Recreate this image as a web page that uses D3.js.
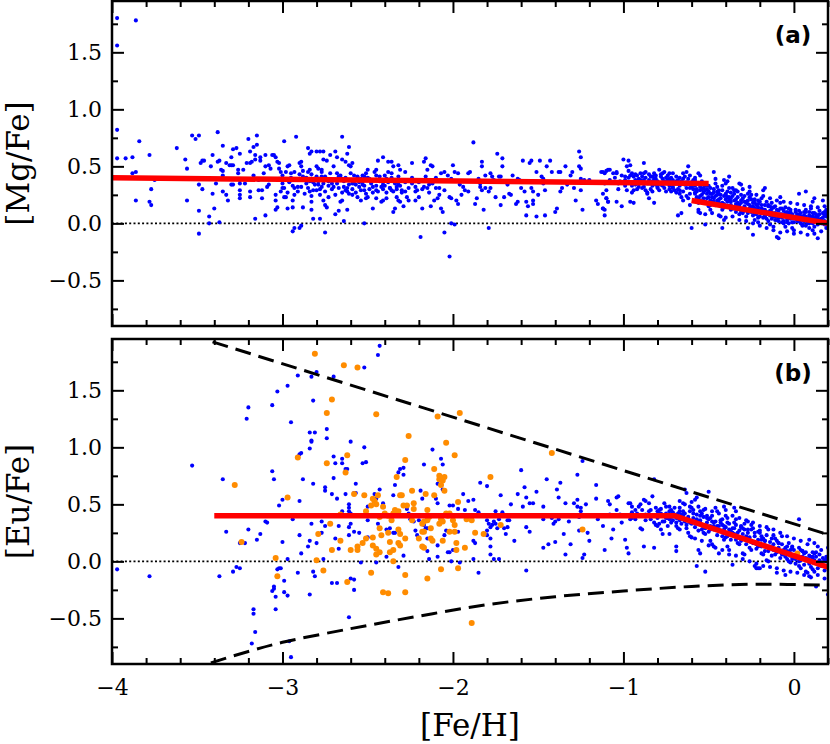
<!DOCTYPE html>
<html>
<head>
<meta charset="utf-8">
<script src="https://cdn.jsdelivr.net/npm/d3@7"></script>
<style>
  body { margin: 0; background: #fff; }
  svg { display: block; }
  .tick text { font-family: "DejaVu Serif", serif; font-size: 22px; fill: #000; }
  .tick line { stroke: #000; stroke-width: 2; }
  .axis-title { font-family: "DejaVu Serif", serif; font-size: 31px; fill: #000; }
  .panel-tag { font-family: "DejaVu Sans", sans-serif; font-size: 23px; font-weight: bold; fill: #000; }
</style>
</head>
<body>
<svg id="chart" width="830" height="744"></svg>
<script>
// ---- panel (a): [Mg/Fe] vs [Fe/H] ----
const mgFeMetalPoor = [
  [-3.97,1.80],[-3.97,1.56],[-3.86,1.78],[-3.97,0.82],[-3.97,0.57],[-3.92,0.57],[-3.88,0.58],[-3.84,0.72],[-3.88,0.44],[-3.86,0.45],
  [-3.86,0.20],[-3.78,0.60],[-3.77,0.30],[-3.78,0.19],[-3.77,0.16],[-3.75,0.38],[-3.62,0.66],[-3.57,0.56],[-3.56,0.48],[-3.56,0.20],
  [-3.53,0.77],[-3.51,0.74],[-3.49,0.77],[-3.49,0.34],[-3.49,0.11],[-3.48,0.53],[-3.47,0.55],[-3.46,0.55],[-3.47,0.30],[-3.49,-0.09],
  [-3.43,0.06],[-3.43,0.00],[-3.41,0.60],[-3.42,0.50],[-3.41,0.26],[-3.40,0.13],[-3.39,0.35],[-3.38,0.80],[-3.38,0.54],[-3.37,0.55],
  [-3.37,0.01],[-3.36,0.47],[-3.35,0.46],[-3.35,0.42],[-3.35,0.68],[-3.35,0.28],[-3.33,0.53],[-3.33,0.25],[-3.32,0.20],[-3.31,0.51],
  [-3.30,0.58],[-3.29,0.65],[-3.27,0.66],[-3.30,0.51],[-3.29,0.51],[-3.30,0.34],[-3.29,0.34],[-3.26,0.47],[-3.26,0.44],[-3.25,0.38],
  [-3.25,0.35],[-3.25,0.29],[-3.25,0.25],[-3.25,0.22],[-3.25,0.61],[-3.23,0.47],[-3.22,0.35],[-3.21,0.53],[-3.19,0.53],[-3.18,0.54],
  [-3.20,0.74],[-3.19,0.63],[-3.19,0.28],[-3.19,0.23],[-3.17,0.67],[-3.15,0.69],[-3.15,0.77],[-3.17,0.42],[-3.16,0.60],[-3.16,0.56],
  [-3.16,0.04],[-3.14,0.38],[-3.14,0.29],[-3.12,0.29],[-3.13,0.58],[-3.13,0.55],[-3.12,0.22],[-3.11,0.44],[-3.10,0.50],[-3.10,0.60],
  [-3.10,0.07],[-3.09,0.32],[-3.08,0.34],[-3.08,0.51],[-3.07,0.48],[-3.06,0.60],[-3.05,0.60],[-3.04,0.58],[-3.04,0.20],[-3.04,0.25],
  [-3.04,0.12],[-3.03,0.14],[-3.03,0.54],[-3.02,0.53],[-3.02,0.48],[-3.01,0.45],[-3.02,0.39],[-3.00,0.38],[-2.98,0.38],[-3.01,0.28],
  [-2.99,0.23],[-2.98,0.23],[-3.00,0.35],[-3.00,0.31],[-2.99,0.72],[-2.97,0.50],[-2.96,0.51],[-2.97,0.13],[-2.94,0.14],[-2.95,0.44],
  [-2.93,0.45],[-2.94,0.20],[-2.93,0.25],[-2.93,0.31],[-2.91,0.32],[-2.92,0.76],[-2.94,-0.07],[-2.93,-0.04],[-2.90,-0.04],[-2.89,-0.02],
  [-2.90,0.53],[-2.89,0.50],[-2.89,0.54],[-2.88,0.41],[-2.87,0.38],[-2.86,0.35],[-2.88,0.14],[-2.85,0.66],[-2.84,0.61],[-2.83,0.63],
  [-2.85,0.45],[-2.84,0.47],[-2.84,0.28],[-2.83,0.24],[-2.83,0.19],[-2.83,0.12],[-2.83,0.39],[-2.82,0.36],[-2.81,0.39],[-2.82,0.04],
  [-2.80,0.63],[-2.78,0.63],[-2.76,0.63],[-2.80,0.50],[-2.79,0.48],[-2.77,0.47],[-2.80,0.29],[-2.78,0.25],[-2.76,0.20],[-2.79,0.34],
  [-2.77,0.32],[-2.78,0.04],[-2.77,0.41],[-2.75,0.41],[-2.76,0.56],[-2.74,0.55],[-2.75,-0.08],[-2.75,0.16],[-2.74,0.14],[-2.73,0.23],
  [-2.73,0.37],[-2.71,0.35],[-2.70,0.32],[-2.72,0.60],[-2.70,0.50],[-2.69,0.63],[-2.68,0.58],[-2.69,0.08],[-2.67,0.11],[-2.68,0.44],
  [-2.67,0.41],[-2.65,0.39],[-2.66,0.19],[-2.65,0.20],[-2.65,0.76],[-2.65,0.56],[-2.63,0.54],[-2.64,0.32],[-2.63,0.29],[-2.62,0.28],
  [-2.61,0.34],[-2.64,0.02],[-2.62,0.61],[-2.61,0.67],[-2.62,0.12],[-2.61,0.51],[-2.60,0.50],[-2.59,0.53],[-2.60,0.44],[-2.58,0.42],
  [-2.59,0.35],[-2.57,0.34],[-2.55,0.32],[-2.59,0.25],[-2.56,0.23],[-2.54,0.20],[-2.56,0.41],[-2.54,0.39],
  [-3.00,0.42],[-2.99,0.31],[-2.98,0.45],[-2.97,0.27],[-2.96,0.36],[-2.95,0.40],[-2.94,0.33],[-2.92,0.38],[-2.91,0.28],[-2.90,0.43],
  [-2.89,0.32],[-2.88,0.46],[-2.87,0.26],[-2.86,0.40],[-2.85,0.31],[-2.84,0.37],[-2.83,0.43],[-2.82,0.29],[-2.81,0.34],[-2.80,0.41],
  [-2.79,0.37],[-2.78,0.30],[-2.77,0.45],[-2.76,0.35],[-2.75,0.28],[-2.74,0.39],[-2.73,0.33],[-2.72,0.44],[-2.71,0.30],[-2.70,0.38],
  [-2.69,0.25],[-2.68,0.35],[-2.67,0.31],[-2.66,0.42],[-2.65,0.27],[-2.64,0.37],[-2.63,0.40],[-2.62,0.31],[-2.61,0.26],[-2.60,0.38],
  [-2.59,0.30],[-2.58,0.35],[-2.57,0.27],[-2.56,0.40],[-2.55,0.36]
];

const mgFeIntermediate = [
  [-2.54,0.29],[-2.53,0.37],[-2.52,0.33],[-2.51,0.26],[-2.50,0.40],[-2.49,0.30],[-2.48,0.35],[-2.47,0.27],[-2.46,0.38],[-2.45,0.33],
  [-2.44,0.28],[-2.43,0.41],[-2.42,0.37],[-2.41,0.30],[-2.40,0.33],[-2.39,0.27],[-2.38,0.36],[-2.37,0.31],[-2.36,0.40],[-2.35,0.28],
  [-2.34,0.37],[-2.33,0.30],[-2.32,0.41],[-2.31,0.33],[-2.30,0.27],[-2.28,0.36],[-2.26,0.31],[-2.24,0.40],[-2.22,0.28],[-2.20,0.36],
  [-2.18,0.30],[-2.16,0.38],[-2.14,0.27],[-2.12,0.35],[-2.10,0.40],[-2.08,0.31],
  [-2.53,0.42],[-2.52,0.41],[-2.51,0.44],[-2.50,0.47],[-2.53,0.34],[-2.52,0.29],[-2.51,0.22],[-2.50,0.23],[-2.52,0.00],[-2.49,0.39],
  [-2.48,0.37],[-2.47,0.32],[-2.47,0.13],[-2.46,0.45],[-2.45,0.42],[-2.45,0.47],[-2.45,0.29],[-2.45,0.22],[-2.44,0.55],[-2.41,0.58],
  [-2.43,0.37],[-2.42,0.32],[-2.41,0.34],[-2.42,0.19],[-2.41,0.20],[-2.39,0.22],[-2.40,0.42],[-2.39,0.39],[-2.38,0.54],[-2.36,0.54],
  [-2.35,0.50],[-2.38,0.45],[-2.36,0.44],[-2.37,0.31],[-2.36,0.29],[-2.35,0.10],[-2.34,0.13],[-2.34,0.35],[-2.33,0.32],[-2.32,0.34],
  [-2.33,0.23],[-2.32,0.20],[-2.31,0.19],[-2.29,0.15],[-2.32,0.51],[-2.31,0.47],[-2.30,0.29],[-2.28,0.28],[-2.29,0.38],[-2.28,0.45],
  [-2.27,0.23],[-2.26,0.20],[-2.24,0.53],[-2.24,0.35],[-2.22,0.32],[-2.21,0.29],[-2.22,0.20],[-2.20,0.23],[-2.19,-0.12],[-2.18,0.13],
  [-2.17,0.54],[-2.16,0.57],[-2.15,0.47],[-2.17,0.32],[-2.15,0.31],[-2.14,0.34],[-2.16,0.41],[-2.13,0.51],[-2.12,0.50],[-2.13,0.15],
  [-2.11,0.20],[-2.09,0.22],[-2.08,0.25],[-2.10,0.31],[-2.07,0.44],[-2.07,0.13],[-2.06,0.10],[-2.05,0.45],[-2.03,0.42],[-2.05,0.29],
  [-2.05,-0.08],[-2.02,0.23],[-2.01,0.22],[-2.02,-0.29],[-2.01,0.39],[-2.00,0.51],[-2.01,0.00],[-1.99,-0.01],[-1.99,0.45],[-1.97,0.44],
  [-1.98,0.20],[-1.97,0.17],[-1.96,0.34],[-1.94,0.32],[-1.95,0.25],[-1.93,0.29],[-1.91,0.28],[-1.91,0.44],[-1.90,0.45],[-1.88,0.71],
  [-1.87,0.17],[-1.86,0.22],[-1.85,0.39],[-1.84,0.35],[-1.84,0.32],[-1.83,0.29],[-1.81,0.31],[-1.83,0.54],[-1.83,0.50],[-1.82,0.12],
  [-1.81,0.42],[-1.79,0.28],[-1.78,0.31],[-1.79,-0.04],[-1.78,0.44],[-1.77,0.41],[-1.76,0.38],[-1.75,0.37],[-1.75,0.23],[-1.74,0.61],
  [-1.73,0.41],[-1.72,0.41],[-1.72,0.16],[-1.71,0.57],[-1.71,0.50],[-1.70,0.23],[-1.68,0.34],[-1.67,0.26],[-1.66,0.25],[-1.65,0.42],
  [-1.63,0.17],[-1.62,0.19],[-1.62,0.39],[-1.61,0.38],[-1.60,0.31],[-1.58,0.28],[-1.59,0.55],[-1.57,0.19],[-1.56,0.15],[-1.57,0.07],
  [-1.55,0.53],[-1.54,0.55],[-1.54,0.31],[-1.53,0.28],[-1.53,0.20],[-1.53,0.17],[-1.51,0.06],[-1.51,0.45],[-1.50,0.25],[-1.49,0.55],
  [-1.48,0.41],[-1.47,0.39],[-1.47,0.35],[-1.46,0.29],[-1.46,0.07],[-1.45,0.50],[-1.43,0.55],[-1.42,0.45],[-1.40,0.10],[-1.39,0.13],
  [-1.38,0.45],[-1.37,0.45],[-1.37,0.28],[-1.36,0.31],[-1.34,0.50],[-1.33,0.34],[-1.31,0.42],[-1.30,0.45],[-1.29,0.31],[-1.28,0.20],
  [-1.26,0.63],[-1.25,0.58],[-1.26,0.50],[-1.25,0.48],[-1.25,0.39],[-1.24,0.37],[-1.23,0.38],[-1.25,0.29],[-1.24,0.12],[-1.20,0.38],
  [-1.16,0.20],[-1.15,0.17],[-1.13,0.45],[-1.11,0.44],[-1.09,0.47],[-1.12,0.13],[-1.11,0.07],[-1.10,0.22],[-1.09,0.19],[-1.08,0.38]
];

const mgFeDisk = [
  [-1.12,0.45],[-1.10,0.46],[-1.08,0.47],[-1.11,0.35],[-1.10,0.29],[-1.12,0.26],[-1.10,0.22],[-1.09,0.19],[-1.11,0.12],[-1.12,0.13],
  [-1.06,0.44],[-1.04,0.44],[-1.04,0.45],[-1.03,0.35],[-1.02,0.37],[-1.04,0.19],[-1.01,0.15],[-1.00,0.56],[-0.97,0.55],[-0.98,0.50],
  [-0.96,0.51],[-0.99,0.41],[-0.99,0.38],[-0.98,0.29],[-0.96,0.19],[-0.94,0.18],[-0.95,0.44],[-0.94,0.41],[-0.92,0.42],[-0.93,0.34],
  [-0.91,0.32],[-0.90,0.38],[-0.89,0.41],[-0.88,0.44],[-0.88,0.53],[-0.87,0.29],[-0.86,0.26],[-0.85,0.22],[-0.85,0.38],[-0.84,0.41],
  [-0.83,0.37],[-0.82,0.44],[-0.82,0.18],[-0.81,0.34],[-0.80,0.32],[-0.79,0.35],[-0.78,0.41],[-0.77,0.44],[-0.76,0.45],[-0.75,0.28],
  [-0.74,0.38],[-0.73,0.37],[-0.72,0.40],[-0.73,0.44],[-0.71,0.31],[-0.70,0.29],[-0.69,0.35],[-0.68,0.38],[-0.68,0.07],[-0.66,0.09],
  [-0.67,0.26],[-0.66,0.23],[-0.65,0.20],[-0.65,0.44],[-0.64,0.41],[-0.63,0.45],[-0.62,0.50],[-0.62,0.35],[-0.61,0.34],[-0.60,0.32],
  [-0.61,0.16],[-0.60,-0.04],[-0.59,0.38],[-0.58,0.38],[-0.58,0.26],[-0.57,0.23],[-0.56,0.22],[-0.56,0.10],[-0.55,0.09],[-0.56,0.44],
  [-0.55,0.42],[-0.55,0.32],[-0.53,0.31],[-0.52,0.29],[-0.52,-0.01],[-0.51,0.18],[-0.50,0.15],[-0.49,0.12],[-0.49,0.26],[-0.48,0.23],
  [-0.47,0.22],[-0.47,0.45],[-0.46,0.35],[-0.45,0.32],[-0.44,0.29],[-0.44,0.18],[-0.43,0.15],[-0.42,0.12],[-0.43,0.06],[-0.41,0.03],
  [-0.42,-0.04],[-0.41,0.38],[-0.40,0.35],[-0.39,0.37],[-0.40,0.26],[-0.38,0.23],[-0.37,0.22],[-0.38,0.41],[-0.37,0.16],[-0.35,0.13],
  [-0.34,0.10],[-0.36,0.31],[-0.35,0.29],[-0.33,0.28],[-0.32,0.35],[-0.31,0.34],[-0.32,0.03],[-0.31,0.20],[-0.29,0.19],[-0.28,0.18],
  [-0.30,0.09],[-0.28,0.06],[-0.27,0.26],[-0.26,0.23],[-0.25,0.25],[-0.27,-0.04],[-0.24,-0.10],[-0.26,0.32],[-0.24,0.15],[-0.23,0.13],
  [-0.22,0.12],[-0.23,0.03],[-0.21,0.01],[-0.21,0.20],[-0.20,0.19],[-0.19,0.22],[-0.18,0.29],[-0.17,0.31],[-0.18,0.09],[-0.17,0.06],
  [-0.16,0.10],[-0.15,0.16],[-0.14,0.15],[-0.13,0.18],[-0.14,-0.01],[-0.12,-0.03],[-0.11,0.06],[-0.10,0.03],[-0.09,0.07],[-0.10,-0.12],
  [-0.09,-0.13],[-0.08,0.18],[-0.07,0.13],[-0.08,0.23],[-0.06,0.00],[-0.05,-0.03],[-0.04,0.01],[-0.04,0.10],[-0.03,0.09],[-0.02,0.12],
  [-0.01,-0.04],[0.00,-0.06],[0.01,0.06],[0.02,0.04],[0.03,0.07],[0.03,0.26],[0.07,0.28],[0.04,0.00],[0.05,-0.01],[0.06,0.02],
  [0.07,0.12],[0.09,0.10],[0.10,0.13],[0.09,-0.04],[0.11,-0.06],[0.12,-0.03],[0.11,0.19],[0.12,0.22],[0.14,0.04],[0.15,0.02],
  [0.16,0.03],[0.14,-0.13],[0.17,0.20],[0.18,0.10],[0.19,0.07],[0.19,0.12],[0.18,-0.01],[0.19,-0.04]
];

const mgFeDiskDense = [
  [-0.98,0.36],[-0.97,0.40],[-0.95,0.33],[-0.93,0.38],[-0.92,0.30],[-0.90,0.44],[-0.89,0.36],[-0.88,0.32],[-0.87,0.40],[-0.86,0.35],
  [-0.85,0.43],[-0.84,0.30],[-0.83,0.33],[-0.82,0.39],[-0.81,0.42],[-0.80,0.37],[-0.79,0.29],[-0.78,0.34],[-0.77,0.39],[-0.76,0.31],
  [-0.75,0.36],[-0.74,0.42],[-0.73,0.33],[-0.72,0.28],[-0.71,0.38],[-0.70,0.35],[-0.69,0.41],[-0.68,0.30],[-0.67,0.33],[-0.66,0.37],
  [-0.65,0.28],[-0.64,0.34],[-0.63,0.31],[-0.62,0.39],[-0.61,0.26],[-0.60,0.36],[-0.59,0.30],[-0.58,0.33],[-0.57,0.28],[-0.56,0.35],
  [-0.55,0.24],[-0.54,0.30],[-0.53,0.27],[-0.52,0.33],[-0.51,0.22],[-0.50,0.28],[-0.49,0.31],[-0.48,0.19],[-0.47,0.27],[-0.46,0.24],
  [-0.45,0.20],[-0.44,0.26],[-0.43,0.22],[-0.42,0.29],[-0.41,0.17],[-0.40,0.21],[-0.39,0.28],[-0.38,0.15],[-0.37,0.19],[-0.36,0.24],
  [-0.35,0.20],[-0.34,0.17],[-0.33,0.23],[-0.32,0.13],[-0.31,0.18],[-0.30,0.22],[-0.29,0.15],[-0.28,0.12],[-0.27,0.20],[-0.26,0.16],
  [-0.25,0.10],[-0.24,0.18],[-0.23,0.21],[-0.22,0.08],[-0.21,0.14],[-0.20,0.11],[-0.19,0.16],[-0.18,0.05],[-0.17,0.12],[-0.16,0.19],
  [-0.15,0.08],[-0.14,0.11],[-0.13,0.04],[-0.12,0.14],[-0.11,0.09],[-0.10,0.12],[-0.09,0.02],[-0.08,0.08],[-0.07,0.05],[-0.06,0.11],
  [-0.05,0.06],[-0.04,0.03],[-0.03,0.13],[-0.02,0.04],[-0.01,0.08],[0.00,0.01],[0.01,0.10],[0.02,0.02],[0.03,0.05],[0.04,0.09],
  [0.05,0.03],[0.06,0.07],[0.07,-0.02],[0.08,0.04],[0.09,0.07],[0.10,0.01],[0.11,0.09],[0.12,0.04],[0.13,0.06],[0.14,-0.01],
  [0.15,0.08],[0.16,0.00],[0.17,0.05],[0.18,0.02],[0.19,0.06],
  [-0.96,0.42],[-0.94,0.29],[-0.91,0.35],[-0.88,0.38],[-0.86,0.27],[-0.83,0.41],[-0.80,0.31],[-0.78,0.43],[-0.76,0.37],[-0.73,0.39],
  [-0.71,0.32],[-0.69,0.27],[-0.67,0.40],[-0.65,0.35],[-0.63,0.24],[-0.61,0.31],[-0.59,0.37],[-0.57,0.21],[-0.55,0.29],[-0.53,0.34],
  [-0.51,0.26],[-0.49,0.20],[-0.47,0.30],[-0.45,0.25],[-0.43,0.17],[-0.41,0.24],[-0.39,0.19],[-0.37,0.27],[-0.35,0.14],[-0.33,0.18],
  [-0.31,0.25],[-0.29,0.11],[-0.27,0.17],[-0.25,0.21],[-0.23,0.09],[-0.21,0.17],[-0.19,0.13],[-0.17,0.07],[-0.15,0.15],[-0.13,0.10],
  [-0.11,0.03],[-0.09,0.11],[-0.07,0.08],[-0.05,0.14],[-0.03,0.00],[-0.01,0.06],[0.01,0.04],[0.03,0.11],[0.05,-0.02],[0.07,0.06],
  [0.09,0.03],[0.11,0.00],[0.13,0.08],[0.15,0.03],[0.17,0.09],[0.19,-0.01],
  [-0.62,0.22],[-0.58,0.27],[-0.56,0.18],[-0.54,0.25],[-0.52,0.19],[-0.50,0.23],[-0.48,0.26],[-0.46,0.16],[-0.44,0.21],[-0.42,0.18],
  [-0.40,0.25],[-0.38,0.20],[-0.36,0.13],[-0.34,0.21],[-0.32,0.16],[-0.30,0.12],[-0.28,0.19],[-0.26,0.13],[-0.24,0.07],[-0.22,0.16],
  [-0.20,0.06],[-0.18,0.12],[-0.16,0.04],[-0.14,0.07],[-0.12,0.06],[-0.10,0.07],[-0.08,0.13],[-0.06,0.02],[-0.04,0.07],[-0.02,0.10],
  [0.00,0.05],[0.02,0.08],[0.04,0.05],[0.06,0.10],[0.08,0.00],[0.10,0.05],[0.12,0.09],[0.14,0.06],[0.16,0.04],[0.18,0.07]
];

const mgFeDiskSpread = [
  [-0.58,0.40],[-0.56,0.12],[-0.54,0.37],[-0.52,0.08],[-0.50,0.33],[-0.48,0.09],[-0.46,0.39],[-0.44,0.07],[-0.42,0.33],[-0.40,0.05],
  [-0.38,0.31],[-0.36,0.06],[-0.34,0.29],[-0.32,0.08],[-0.30,0.30],[-0.28,0.02],[-0.26,0.28],[-0.24,0.00],[-0.22,0.25],[-0.20,-0.02],
  [-0.18,0.24],[-0.16,-0.04],[-0.14,0.22],[-0.12,-0.06],[-0.10,0.20],[-0.08,-0.08],[-0.06,0.19],[-0.04,-0.07],[-0.02,0.18],[0.00,-0.09],
  [0.02,0.17],[0.04,-0.08],[0.06,0.16],[0.08,-0.10],[0.10,0.15],[0.12,-0.09],[0.14,0.14],[0.16,-0.07],[0.18,0.15],
  [-0.57,0.30],[-0.55,0.20],[-0.53,0.22],[-0.51,0.30],[-0.49,0.16],[-0.47,0.19],[-0.45,0.28],[-0.43,0.25],[-0.41,0.14],[-0.39,0.23],
  [-0.37,0.12],[-0.35,0.26],[-0.33,0.15],[-0.31,0.10],[-0.29,0.24],[-0.27,0.09],[-0.25,0.14],[-0.23,0.18],[-0.21,0.05],[-0.19,0.09],
  [-0.17,0.16],[-0.15,0.02],[-0.13,0.13],[-0.11,0.15],[-0.09,0.05],[-0.07,0.01],[-0.05,0.09],[-0.03,0.05],[-0.01,0.01],[0.01,0.12],
  [0.03,0.02],[0.05,0.06],[0.07,0.10],[0.09,0.00],[0.11,0.06],[0.13,0.02],[0.15,0.11],[0.17,0.00],[0.19,0.09],
  [-1.05,0.40],[-1.03,0.30],[-1.01,0.42],[-0.99,0.33],[-0.97,0.46],[-0.95,0.27],[-0.93,0.43],[-0.91,0.39],[-0.89,0.31],[-0.87,0.45],
  [-0.85,0.35],[-0.83,0.28],[-0.81,0.39],[-0.79,0.47],[-0.77,0.33],[-0.75,0.40],[-0.73,0.30],[-0.71,0.44],[-0.69,0.37],[-0.67,0.29],
  [-0.65,0.39],[-0.63,0.36],[-0.61,0.42],[-0.59,0.34]
];

const mgFeFitHalo = [[-4.0,0.40],[-0.5,0.35]];
const mgFeFitDisk = [[-0.6,0.20],[0.2,0.00]];

// ---- panel (b): [Eu/Fe] vs [Fe/H] ----
const euFeBlueHalo = [
  [-3.97,-0.07],[-3.78,-0.13],[-3.53,0.84],[-3.37,-0.13],[-3.35,0.72],[-3.33,0.26],[-3.29,-0.09],[-3.27,-0.05],[-3.25,-0.06],[-3.25,0.16],
  [-3.22,0.16],[-3.21,1.25],[-3.20,1.35],[-3.20,0.28],[-3.18,-0.72],[-3.17,-0.42],[-3.17,-0.46],[-3.16,-0.62],[-3.15,0.19],[-3.13,0.24],
  [-3.10,0.35],[-3.09,0.34],[-3.06,1.37],[-3.06,0.79],[-3.05,0.72],[-3.06,-0.26],[-3.05,-0.22],[-3.05,-0.24],[-3.04,-0.31],[-3.04,-0.42],
  [-3.03,1.49],[-3.03,-0.07],[-3.02,-0.06],[-3.01,-0.06],[-3.02,0.49],[-3.00,0.54],[-3.00,0.17],[-2.99,-0.27],[-2.99,-0.17],[-2.97,1.54],
  [-2.97,0.02],[-2.97,-0.30],[-2.96,-0.70],[-2.95,-0.84],[-2.95,1.22],[-2.94,0.37],[-2.91,-0.10],[-2.91,1.63],[-2.90,0.23],[-2.90,0.53],
  [-2.90,0.94],[-2.89,0.95],[-2.89,0.07],[-2.88,0.72],[-2.85,0.13],[-2.84,0.18],[-2.84,1.13],[-2.81,1.13],[-2.84,0.99],[-2.83,1.06],
  [-2.83,1.05],[-2.84,-0.29],[-2.83,0.33],[-2.83,1.62],[-2.80,1.66],[-2.82,0.68],[-2.82,1.41],[-2.82,-0.09],[-2.81,-0.13],[-2.80,0.16],
  [-2.77,0.35],[-2.77,0.25],[-2.76,0.02],[-2.75,0.31],[-2.75,0.65],[-2.75,0.62],[-2.74,1.16],[-2.74,1.08],[-2.71,-0.19],[-2.68,-0.19],
  [-2.71,0.59],[-2.70,0.92],[-2.70,0.73],[-2.69,0.20],[-2.67,0.11],[-2.69,0.86],[-2.68,0.55],[-2.70,1.62],[-2.67,0.31],[-2.65,0.44],
  [-2.65,0.90],[-2.65,0.86],[-2.63,0.81],[-2.62,0.81],[-2.61,0.50],[-2.61,0.47],[-2.61,0.44],[-2.60,0.42],[-2.61,0.30],[-2.60,-0.15],
  [-2.61,-0.49],[-2.60,1.05],[-2.58,0.60],
  [-2.44,1.81],[-2.43,1.89],[-2.52,1.70],[-2.52,1.00],[-2.53,0.86],[-2.51,0.87],[-2.57,0.68],[-2.57,0.60],[-2.63,0.59],[-2.60,0.33],
  [-2.61,0.23],[-2.58,0.26],[-2.55,0.25],[-2.54,-0.01],[-2.50,0.21],[-2.50,0.48],[-2.50,0.36],[-2.58,-0.16],[-2.58,-0.25],[-2.46,0.59],
  [-2.45,0.55],[-2.43,0.63],[-2.44,0.33],[-2.45,-0.01],[-2.41,0.51],[-2.39,0.28],[-2.37,0.29],[-2.39,0.04],[-2.35,0.25],[-2.34,0.25],
  [-2.34,0.67],[-2.32,-0.05],[-2.32,0.78],[-2.31,0.81],[-2.29,0.82],[-2.29,0.76],[-2.31,0.40],[-2.35,0.58],[-2.27,0.46],[-2.26,0.42],
  [-2.29,0.05],[-2.25,0.37],[-2.23,0.35],[-2.22,0.27],[-2.21,0.23],[-2.20,0.36],[-2.19,0.62],[-2.17,0.85],[-2.18,0.55],[-2.17,0.32],
  [-2.16,0.29],[-2.15,0.29],[-2.15,0.09],[-2.14,0.02],[-2.15,0.20],[-2.12,0.98],[-2.10,0.55],[-2.09,0.51],[-2.09,0.68],[-2.07,0.90],
  [-2.09,0.04],[-2.09,0.14],[-2.06,0.85],[-2.06,0.63],[-2.05,0.23],[-2.04,0.27],[-2.03,0.08],[-2.02,0.08],[-2.02,0.49],[-2.00,0.10],
  [-2.01,0.00],[-2.00,0.49],[-1.97,0.46],[-1.97,0.26],[-1.96,-0.01],[-1.94,0.59],[-1.93,0.45],[-1.91,0.53],[-1.88,0.54],[-1.88,0.18],
  [-1.87,0.16],[-1.88,0.02],[-1.87,0.45],[-1.85,0.43],[-1.85,-0.10],[-1.84,0.69],[-1.80,0.66],[-1.80,0.36],[-1.79,0.33],[-1.78,0.30],
  [-1.80,0.27],[-1.77,0.32],[-1.80,0.23],[-1.78,0.20],[-1.78,0.13],[-1.78,0.06],[-1.76,0.35],[-1.75,0.44],[-1.75,0.33],[-1.74,0.29],
  [-1.76,0.02],[-1.73,0.02],[-1.73,0.37],[-1.72,0.58],[-1.70,0.29],[-1.69,0.24],[-1.68,0.30],[-1.67,0.36],[-1.71,0.43],[-1.68,0.36],
  [-1.66,0.50],[-1.64,0.18],[-1.62,0.59],[-1.60,0.80],[-1.59,0.48],[-1.58,0.65],[-1.57,-0.08],[-1.57,0.56],[-1.57,0.30],[-1.55,0.51],
  [-1.53,0.51],[-1.55,0.26],[-1.51,0.61],[-1.47,0.48],[-1.47,0.37],[-1.47,0.12],[-1.45,0.72],[-1.44,0.15],[-1.42,0.38],[-1.40,0.35],
  [-1.41,0.33],[-1.40,0.17],[-1.39,0.63],[-1.38,0.56],[-1.38,0.37],[-1.37,0.69],[-1.35,0.24],[-1.34,0.06],[-1.34,0.51],[-1.32,0.35],
  [-1.31,0.15],[-1.29,0.51],[-1.27,0.76],[-1.27,0.54],[-1.27,0.48],[-1.26,0.39],[-1.26,0.27]
];

const euFeBlueDisk = [
  [-1.24,0.88],[-1.16,0.67],[-1.22,0.50],[-1.25,0.44],[-1.25,0.47],[-1.23,0.06],[-1.24,0.03],[-1.20,0.18],[-1.21,0.25],[-1.16,0.55],
  [-1.15,0.40],[-1.15,0.37],[-1.12,0.31],[-1.11,0.10],[-1.09,0.53],[-1.08,0.50],[-1.08,0.41],[-1.07,0.20],[-1.06,0.28],[-1.04,0.56],
  [-1.03,0.57],[-1.04,0.45],[-1.02,0.41],[-1.01,0.34],[-0.99,0.19],[-0.98,0.12],[-0.97,0.07],[-0.97,0.51],[-0.96,0.51],[-0.95,0.48],
  [-0.96,0.37],[-0.95,0.38],[-0.93,0.45],[-0.92,0.42],[-0.91,0.48],[-0.90,0.50],[-0.90,0.29],[-0.89,0.28],[-0.88,0.13],[-0.88,0.54],
  [-0.87,0.53],[-0.85,0.51],[-0.87,0.41],[-0.85,0.40],[-0.84,0.37],[-0.84,0.45],[-0.83,0.57],[-0.82,0.12],[-0.82,0.72],[-0.82,0.34],
  [-0.81,0.32],[-0.80,0.31],[-0.80,0.44],[-0.79,0.45],[-0.78,0.42],[-0.78,0.28],[-0.77,0.24],[-0.76,0.51],[-0.75,0.48],[-0.74,0.38],
  [-0.73,0.37],[-0.72,0.34],[-0.73,0.24],[-0.72,0.45],[-0.70,0.47],[-0.69,0.09],[-0.69,0.13],[-0.69,0.31],[-0.68,0.29],[-0.67,0.28],
  [-0.68,0.42],[-0.67,0.44],[-0.66,0.41],[-0.65,0.40],[-0.67,0.53],[-0.65,0.51],[-0.64,0.50],[-0.64,0.63],[-0.63,0.60],[-0.64,0.35],
  [-0.63,0.32],[-0.61,0.34],[-0.62,0.25],[-0.61,0.22],[-0.60,0.21],[-0.61,0.48],[-0.60,0.47],[-0.59,0.45],[-0.58,0.54],[-0.57,0.56],
  [-0.57,0.37],[-0.56,0.35],[-0.55,0.34],[-0.57,-0.04],[-0.56,0.10],[-0.55,0.07],[-0.55,0.44],[-0.54,0.42],[-0.53,0.45],[-0.54,0.28],
  [-0.53,0.25],[-0.52,0.24],[-0.52,-0.09],[-0.51,0.40],[-0.50,0.37],[-0.49,0.38],[-0.48,0.35],[-0.50,0.61],[-0.49,0.18],[-0.48,0.15],
  [-0.47,0.13],[-0.47,0.31],[-0.46,0.29],[-0.45,0.28],[-0.46,0.47],[-0.45,0.44],[-0.44,0.07],[-0.43,0.34],[-0.42,0.32],[-0.41,0.31],
  [-0.42,0.22],[-0.41,0.19],[-0.40,0.21],[-0.41,0.48],[-0.40,0.40],[-0.39,0.38],[-0.39,0.13],[-0.38,0.10],[-0.38,0.28],[-0.37,0.26],
  [-0.36,0.25],[-0.36,-0.03],[-0.35,0.47],[-0.34,0.44],[-0.35,0.34],[-0.34,0.32],[-0.34,0.19],[-0.33,0.16],[-0.32,0.15],[-0.31,0.31],
  [-0.30,0.29],[-0.29,0.28],[-0.30,0.07],[-0.29,0.06],[-0.28,0.22],[-0.27,0.20],[-0.26,0.19],[-0.27,0.35],[-0.26,0.12],[-0.25,0.10],
  [-0.25,0.32],[-0.24,0.29],[-0.23,-0.04],[-0.22,-0.06],[-0.21,-0.06],[-0.20,-0.06],[-0.23,0.16],[-0.22,0.15],[-0.21,0.13],[-0.21,0.26],
  [-0.20,0.25],[-0.19,0.07],[-0.18,0.06],[-0.17,0.09],[-0.19,0.19],[-0.17,0.18],[-0.16,0.01],[-0.15,0.00],[-0.15,0.28],[-0.14,0.13],
  [-0.13,0.12],[-0.12,0.10],[-0.12,0.23],[-0.11,0.06],[-0.10,-0.10],[-0.10,0.18],[-0.09,0.16],[-0.08,0.09],[-0.07,0.07],[-0.06,0.06],
  [-0.07,0.22],[-0.05,-0.12],[-0.04,0.02],[-0.03,0.00],[-0.02,-0.01],[-0.04,0.13],[-0.02,0.10],[-0.01,0.12],[0.00,0.03],[0.01,0.02],
  [0.03,0.37],[0.03,-0.04],[0.04,-0.06],[0.04,0.10],[0.05,0.09],[0.06,0.07],[0.07,-0.09],[0.08,-0.10],[0.09,-0.13],[0.09,0.19],
  [0.10,0.04],[0.11,0.03],[0.11,-0.07],[0.12,-0.09],[0.12,0.07],[0.13,-0.22],[0.14,0.13],[0.15,-0.03],[0.16,-0.04],[0.18,0.01],
  [0.19,0.00],[0.20,0.12],[0.20,-0.29],
  [-0.80,0.38],[-0.79,0.33],[-0.78,0.46],[-0.77,0.40],[-0.76,0.35],[-0.75,0.42],[-0.74,0.31],[-0.73,0.44],[-0.72,0.39],[-0.71,0.36],
  [-0.70,0.41],[-0.69,0.34],[-0.68,0.38],[-0.67,0.47],[-0.66,0.33],[-0.65,0.37],[-0.64,0.42],[-0.63,0.29],[-0.62,0.39],[-0.61,0.44],
  [-0.60,0.33],[-0.59,0.38],[-0.58,0.30],[-0.57,0.41],[-0.56,0.27],[-0.55,0.36],[-0.54,0.32],[-0.53,0.39],[-0.52,0.29],[-0.51,0.34],
  [-0.50,0.26],[-0.49,0.31],[-0.48,0.40],[-0.47,0.28],[-0.46,0.35],[-0.45,0.23],[-0.44,0.31],[-0.43,0.27],[-0.42,0.37],[-0.41,0.25],
  [-0.40,0.30],[-0.39,0.22],[-0.38,0.33],[-0.37,0.19],[-0.36,0.29],[-0.35,0.24],[-0.34,0.37],[-0.33,0.21],[-0.32,0.27],[-0.31,0.18],
  [-0.30,0.24],[-0.29,0.33],[-0.28,0.15],[-0.27,0.25],[-0.26,0.21],[-0.25,0.28],[-0.24,0.16],[-0.23,0.22],[-0.22,0.11],[-0.21,0.19],
  [-0.20,0.27],[-0.19,0.13],[-0.18,0.20],[-0.17,0.14],[-0.16,0.23],[-0.15,0.09],[-0.14,0.17],[-0.13,0.05],[-0.12,0.15],[-0.11,0.20],
  [-0.10,0.08],[-0.09,0.12],[-0.08,0.03],[-0.07,0.15],[-0.06,0.10],[-0.05,0.04],[-0.04,0.09],[-0.03,0.16],[-0.02,0.05],[-0.01,0.02],
  [0.00,0.10],[0.01,-0.02],[0.02,0.06],[0.03,0.12],[0.04,0.01],[0.05,0.04],[0.06,-0.03],[0.07,0.08],[0.08,0.02],[0.09,0.05],
  [0.10,-0.05],[0.11,0.08],[0.12,0.01],[0.13,0.04],[0.14,-0.06],[0.15,0.06],[0.16,-0.01],[0.17,0.03],[0.18,-0.08],[0.19,0.04],
  [-0.95,0.43],[-0.93,0.37],[-0.91,0.40],[-0.89,0.45],[-0.87,0.36],[-0.85,0.44],[-0.83,0.40],[-0.81,0.47],[-0.79,0.42],[-0.77,0.35],
  [-0.75,0.38],[-0.73,0.48],[-0.71,0.43],[-0.69,0.38],[-0.67,0.36],[-0.65,0.44],[-0.63,0.36],[-0.61,0.35],[-0.59,0.42],[-0.57,0.34],
  [-0.55,0.40],[-0.53,0.30],[-0.51,0.38],[-0.49,0.28],[-0.47,0.34],[-0.45,0.31],[-0.43,0.36],[-0.41,0.28],[-0.39,0.34],[-0.37,0.26],
  [-0.35,0.29],[-0.33,0.25],[-0.31,0.30],[-0.29,0.20],[-0.27,0.28],[-0.25,0.17],[-0.23,0.25],[-0.21,0.14],[-0.19,0.22],[-0.17,0.18],
  [-0.15,0.12],[-0.13,0.20],[-0.11,0.10],[-0.09,0.16],[-0.07,0.06],[-0.05,0.12],[-0.03,0.08],[-0.01,0.13],[0.01,0.05],[0.03,0.00],
  [0.05,0.09],[0.07,0.03],[0.09,-0.02],[0.11,0.04],[0.13,0.08],[0.15,0.01],[0.17,-0.04],[0.19,0.02]
];

const euFeDiskSpread = [
  [-0.60,0.52],[-0.58,0.20],[-0.56,0.48],[-0.54,0.18],[-0.52,0.46],[-0.50,0.14],[-0.48,0.44],[-0.46,0.12],[-0.44,0.42],[-0.42,0.10],
  [-0.40,0.45],[-0.38,0.06],[-0.36,0.40],[-0.34,0.05],[-0.32,0.38],[-0.30,0.02],[-0.28,0.36],[-0.26,0.00],[-0.24,0.34],[-0.22,-0.02],
  [-0.20,0.31],[-0.18,-0.04],[-0.16,0.30],[-0.14,-0.05],[-0.12,0.28],[-0.10,-0.06],[-0.08,0.25],[-0.06,-0.08],[-0.04,0.22],[-0.02,-0.09],
  [0.00,0.20],[0.02,-0.10],[0.04,0.18],[0.06,-0.12],[0.08,0.15],[0.10,-0.14],[0.12,0.16],[0.14,-0.12],[0.16,0.10],[0.18,-0.15]
];

const euFeOrange = [
  [-3.28,0.67],[-3.24,0.17],[-3.04,0.03],[-3.03,-0.13],[-2.97,0.56],[-2.91,0.91],[-2.81,1.82],[-2.80,0.01],[-2.79,0.24],[-2.76,-0.08],
  [-2.74,1.30],[-2.74,0.86],[-2.72,0.33],[-2.71,1.42],[-2.71,0.10],[-2.66,0.41],[-2.66,0.18],[-2.64,1.72],[-2.63,0.78],[-2.62,0.93],
  [-2.62,-0.18],[-2.60,0.10],[-2.56,1.70],[-2.45,1.29],[-2.58,0.59],[-2.52,0.58],[-2.47,0.55],[-2.46,0.53],[-2.44,0.58],[-2.51,0.44],
  [-2.48,0.49],[-2.45,0.50],[-2.43,0.39],[-2.41,0.48],[-2.40,0.42],[-2.38,0.40],[-2.36,0.36],[-2.43,0.29],[-2.42,0.23],[-2.47,0.21],
  [-2.47,0.14],[-2.45,0.11],[-2.45,0.06],[-2.43,0.08],[-2.53,0.16],[-2.51,0.20],[-2.56,0.13],[-2.56,0.10],[-2.48,-0.10],[-2.41,-0.27],
  [-2.38,-0.28],[-2.38,0.25],[-2.37,0.17],[-2.37,0.08],[-2.35,0.10],[-2.35,0.00],[-2.35,0.42],[-2.34,0.45],[-2.33,0.43],[-2.32,0.44],
  [-2.33,0.74],[-2.31,0.58],[-2.30,0.58],[-2.29,0.49],[-2.27,0.49],[-2.32,0.28],[-2.31,0.24],[-2.32,0.16],[-2.31,0.14],[-2.28,0.20],
  [-2.28,-0.12],[-2.28,-0.27],[-2.28,0.89],[-2.26,1.10],[-2.24,0.62],[-2.24,0.36],[-2.23,0.51],[-2.23,0.46],[-2.20,0.20],[-2.18,0.33],
  [-2.17,0.35],[-2.15,0.36],[-2.18,0.26],[-2.17,0.26],[-2.17,0.12],[-2.18,0.13],[-2.16,0.59],[-2.15,0.45],[-2.15,-0.15],[-2.14,0.39],
  [-2.13,0.29],[-2.13,0.20],[-2.12,0.18],[-2.11,0.58],[-2.11,0.81],[-2.09,1.27],[-2.08,0.75],[-2.08,0.72],[-2.07,0.67],[-2.06,0.71],
  [-2.05,0.74],[-2.05,0.62],[-2.08,0.33],[-2.06,0.35],[-2.07,0.37],[-2.04,1.04],[-2.06,0.18],[-2.04,0.42],[-2.03,0.40],[-2.02,0.42],
  [-1.99,0.93],[-2.02,0.26],[-1.99,0.26],[-1.99,0.32],[-2.00,0.36],[-1.98,0.16],[-1.98,0.10],[-1.97,-0.06],[-1.97,0.52],[-1.96,1.30],
  [-1.93,0.12],[-1.92,0.37],[-1.89,0.36],[-1.89,-0.54],[-1.87,0.25],[-1.82,0.24],[-1.78,0.74],[-1.72,0.32],[-1.42,0.95],[-2.07,-0.07],
  [-1.24,0.28],[0.02,0.07]
];

const euFeFit = [[-3.4,0.40],[-0.7,0.40],[0.2,-0.05]];
const euFeUpperBound = [[-3.41,1.925],[0.2,0.235]];
const euFeLowerBound = [[-3.42,-0.89],[-3.2,-0.79],[-3.0,-0.71],[-2.6,-0.59],[-2.2,-0.48],[-1.8,-0.38],[-1.4,-0.31],[-1.0,-0.26],[-0.6,-0.22],[-0.2,-0.20],[0.2,-0.21]];

// ---- ticks ----
const xMajorTicks = [-4, -3, -2, -1, 0];
const xMinorTicks = d3.range(-20, 2).filter(i => i % 5 !== 0).map(i => i / 5);
const yMajorTicks = [-0.5, 0, 0.5, 1.0, 1.5];
const yMinorTicks = [-0.75, -0.25, 0.25, 0.75, 1.25, 1.75];

const svg = d3.select("#chart");
const left = 112, right = 828;
const x = d3.scaleLinear().domain([-4, 0.2]).range([left, right]);
const yDomain = [-0.9, 1.95];

function drawPanel(p) {
    const y = d3.scaleLinear().domain(yDomain).range([p.bottom, p.top]);
    const g = svg.append("g");

    svg.append("defs").append("clipPath").attr("id", p.id)
        .append("rect")
        .attr("x", left).attr("y", p.top)
        .attr("width", right - left).attr("height", p.bottom - p.top);

    const plot = g.append("g").attr("clip-path", `url(#${p.id})`);

    // zero reference
    plot.append("line")
        .attr("x1", left).attr("x2", right)
        .attr("y1", y(0)).attr("y2", y(0))
        .attr("stroke", "#000")
        .attr("stroke-width", 1.8)
        .attr("stroke-dasharray", "2,2.3");

    plot.append("g").selectAll("circle")
        .data(p.blue)
        .join("circle")
        .attr("cx", d => x(d[0]))
        .attr("cy", d => y(d[1]))
        .attr("r", 2.05)
        .attr("fill", "#0000ff");

    if (p.orange) {
        plot.append("g").selectAll("circle")
            .data(p.orange)
            .join("circle")
            .attr("cx", d => x(d[0]))
            .attr("cy", d => y(d[1]))
            .attr("r", 3)
            .attr("fill", "#ff8c00");
    }

    const line = d3.line().x(d => x(d[0])).y(d => y(d[1]));

    p.fits.forEach(f => {
        plot.append("path")
            .attr("d", line(f))
            .attr("fill", "none")
            .attr("stroke", "#ff0000")
            .attr("stroke-width", 5.5);
    });

    (p.bounds || []).forEach(b => {
        plot.append("path")
            .attr("d", line.curve(d3.curveCatmullRom)(b))
            .attr("fill", "none")
            .attr("stroke", "#000")
            .attr("stroke-width", 3)
            .attr("stroke-dasharray", "16,8");
    });

    // axes, ticks inward on all sides
    const noLabel = () => "";
    g.append("g").attr("transform", `translate(0,${p.bottom})`)
        .call(d3.axisBottom(x).tickValues(xMinorTicks).tickSize(-6).tickFormat(noLabel));
    g.append("g").attr("transform", `translate(0,${p.bottom})`)
        .call(d3.axisBottom(x).tickValues(xMajorTicks).tickSize(-12).tickPadding(15)
            .tickFormat(p.xLabels ? d3.format("d") : noLabel));
    g.append("g").attr("transform", `translate(0,${p.top})`)
        .call(d3.axisTop(x).tickValues(xMinorTicks).tickSize(-6).tickFormat(noLabel));
    g.append("g").attr("transform", `translate(0,${p.top})`)
        .call(d3.axisTop(x).tickValues(xMajorTicks).tickSize(-12).tickFormat(noLabel));

    g.append("g").attr("transform", `translate(${left},0)`)
        .call(d3.axisLeft(y).tickValues(yMinorTicks).tickSize(-6).tickFormat(noLabel));
    g.append("g").attr("transform", `translate(${left},0)`)
        .call(d3.axisLeft(y).tickValues(yMajorTicks).tickSize(-12).tickPadding(10).tickFormat(d3.format(".1f")));
    g.append("g").attr("transform", `translate(${right},0)`)
        .call(d3.axisRight(y).tickValues(yMinorTicks).tickSize(-6).tickFormat(noLabel));
    g.append("g").attr("transform", `translate(${right},0)`)
        .call(d3.axisRight(y).tickValues(yMajorTicks).tickSize(-12).tickFormat(noLabel));

    g.selectAll(".domain").remove();

    g.append("rect")
        .attr("x", left).attr("y", p.top)
        .attr("width", right - left).attr("height", p.bottom - p.top)
        .attr("fill", "none")
        .attr("stroke", "#000")
        .attr("stroke-width", 2.5);

    g.append("text")
        .attr("class", "axis-title")
        .attr("transform", `translate(29,${(p.top + p.bottom) / 2}) rotate(-90)`)
        .attr("text-anchor", "middle")
        .text(p.yTitle);

    g.append("text")
        .attr("class", "panel-tag")
        .attr("x", 793)
        .attr("y", p.top + 42)
        .attr("text-anchor", "middle")
        .text(p.tag);
}

drawPanel({
    id: "clip-a", top: 1, bottom: 326,
    blue: mgFeMetalPoor.concat(mgFeIntermediate, mgFeDisk, mgFeDiskDense, mgFeDiskSpread),
    fits: [mgFeFitHalo, mgFeFitDisk],
    yTitle: "[Mg/Fe]", tag: "(a)", xLabels: false
});

drawPanel({
    id: "clip-b", top: 339, bottom: 664,
    blue: euFeBlueHalo.concat(euFeBlueDisk, euFeDiskSpread),
    orange: euFeOrange,
    fits: [euFeFit],
    bounds: [euFeUpperBound, euFeLowerBound],
    yTitle: "[Eu/Fe]", tag: "(b)", xLabels: true
});

svg.append("text")
    .attr("class", "axis-title")
    .attr("x", (left + right) / 2)
    .attr("y", 736)
    .attr("text-anchor", "middle")
    .text("[Fe/H]");
</script>
</body>
</html>
